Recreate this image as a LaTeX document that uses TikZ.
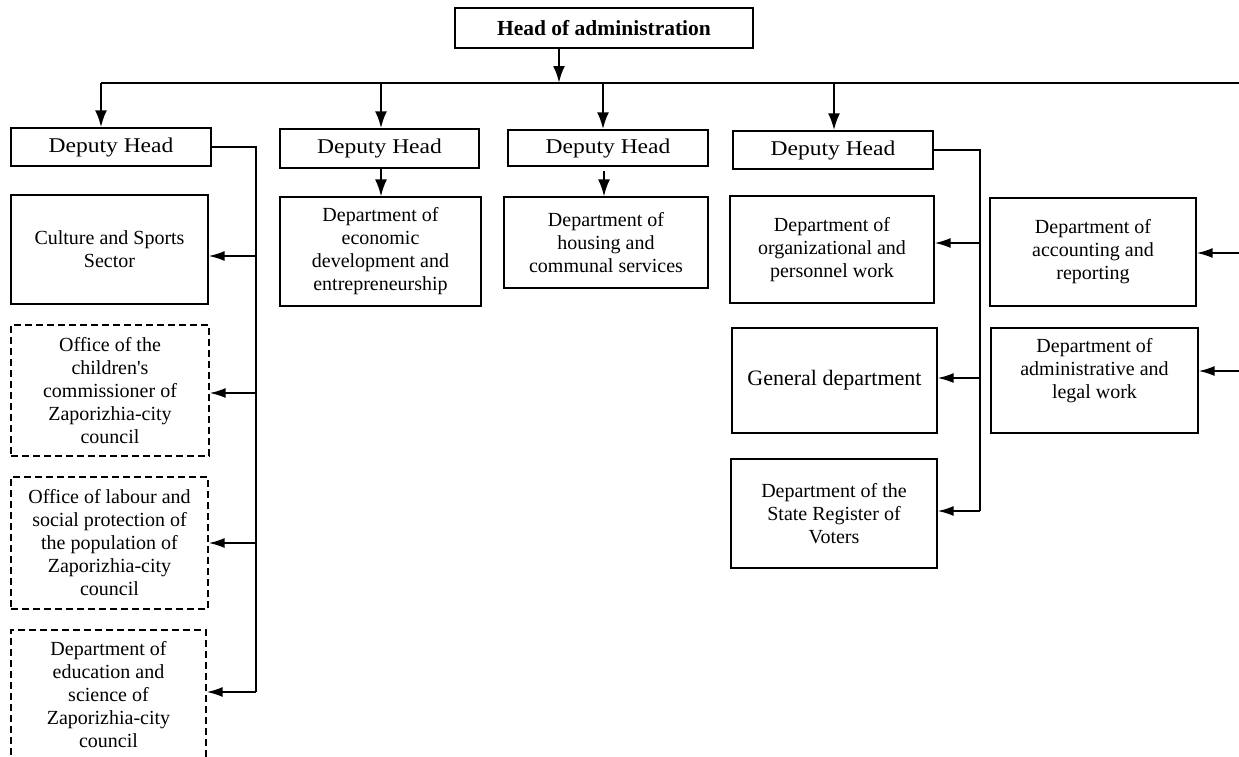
\documentclass[tikz,border=0pt]{standalone}
\usepackage{fontspec}
\setmainfont{Liberation Serif}
\usetikzlibrary{arrows.meta}
\newcommand{\wide}[1]{\scalebox{1.12}[1]{#1}}
\begin{document}
\begin{tikzpicture}[x=1pt,y=-1pt,
  box/.style={draw, line width=1.3pt, inner sep=0pt, align=center,
    font=\fontsize{20}{23}\selectfont},
  dbox/.style={box, dash pattern=on 7pt off 4pt},
  deputy/.style={box, font=\fontsize{21}{24}\selectfont},
  plain/.style={align=center, font=\fontsize{20}{23}\selectfont},
  link/.style={line width=1.8pt},
  bus/.style={line width=2.6pt},
  tip/.style={-{Latex[length=16pt,width=10pt]}},
  btip/.style={-{Latex[length=17pt,width=12pt]}},
]
\useasboundingbox (0,0) rectangle (1239,756);
\clip (0,0) rectangle (1239,756);

% top of the hierarchy
\node[box, minimum width=298pt, minimum height=40pt,
  font=\fontsize{21.5}{24}\selectfont\bfseries] (head) at (604,28) {Head of administration};

% deputies
\node[deputy, minimum width=200pt, minimum height=38pt] (d1) at (111,147) {\wide{Deputy Head}};
\node[deputy, minimum width=199pt, minimum height=39pt] (d2) at (379.5,148.5) {\wide{Deputy Head}};
\node[deputy, minimum width=200pt, minimum height=36pt] (d3) at (608,148) {\wide{Deputy Head}};
\node[deputy, minimum width=200pt, minimum height=38pt] (d4) at (833,150) {\wide{Deputy Head}};

% units under the first deputy
\node[box, minimum width=197pt, minimum height=109pt] (culture) at (109.5,249.5) {Culture and Sports\\Sector};
\node[dbox, minimum width=198pt, minimum height=131pt] (children) at (110,390.5)
  {Office of the\\children\textquotesingle s\\commissioner of\\Zaporizhia-city\\council};
\node[dbox, minimum width=197pt, minimum height=132pt] (labour) at (109.5,543)
  {Office of labour and\\social protection of\\the population of\\Zaporizhia-city\\council};
\node[dbox, minimum width=195pt, minimum height=130pt] (education) at (108.5,695)
  {Department of\\education and\\science of\\Zaporizhia-city\\council};

% units under the second and third deputies
\node[box, minimum width=201pt, minimum height=109pt] (econ) at (380.5,251.5)
  {Department of\\economic\\development and\\entrepreneurship};
\node[box, minimum width=204pt, minimum height=91pt] (housing) at (606,242.5)
  {Department of\\housing and\\communal services};

% units under the fourth deputy
\node[box, minimum width=204pt, minimum height=107pt] (org) at (832,249.5)
  {Department of\\organizational and\\personnel work};
\node[box, minimum width=205pt, minimum height=105pt,
  font=\fontsize{22}{24}\selectfont] (general) at (834.5,380.5) {General department};
\node[box, minimum width=206pt, minimum height=109pt] (state) at (834,513.5)
  {Department of the\\State Register of\\Voters};

% units fed from the right
\node[box, minimum width=206pt, minimum height=108pt] (account) at (1093,252)
  {Department of\\accounting and\\reporting};
\node[box, minimum width=207pt, minimum height=105pt] (admin) at (1094.5,380.5) {};
\node[plain] at ([yshift=10pt]admin.center) {Department of\\administrative and\\legal work};

% main bus
\coordinate (busL) at (101,83);
\coordinate (busR) at (1245,83);
\coordinate (hx) at (559,83);
\draw[bus,btip] (head.south -| hx) -- (hx);
\draw[bus] (busL) -- (busR);
\draw[bus,btip] (busL) -- (d1.north -| busL);
\coordinate (b2) at (381,83);
\coordinate (b3) at (603,83);
\coordinate (b4) at (834,83);
\draw[bus,btip] (b2) -- (d2.north -| b2);
\draw[bus,btip] (b3) -- (d3.north -| b3);
\draw[bus,btip] (b4) -- (d4.north -| b4);

% direct subordination
\draw[link,btip] (d2.south -| b2) -- (econ.north -| b2);
\draw[link,btip] ([shift={(-4pt,-4pt)}]d3.south) coordinate (d3s) -- (d3s |- housing.north);

% first deputy side line
\coordinate (l1bot) at (256,692);
\draw[link] (d1.east) -| (l1bot);
\draw[link,tip] (l1bot |- culture.east) ++(0,6.5) coordinate (c1) -- (c1 -| culture.east);
\draw[link,tip] (l1bot |- children.east) ++(0,2.5) coordinate (c2) -- (c2 -| children.east);
\draw[link,tip] (l1bot |- labour.east) -- (labour.east);
\draw[link,tip] (l1bot) -- (l1bot -| education.east);

% fourth deputy side line
\coordinate (l4bot) at (980,511);
\draw[link] (d4.east) -| (l4bot);
\draw[link,tip] (l4bot |- org.east) ++(0,-6.5) coordinate (c4) -- (c4 -| org.east);
\draw[link,tip] (l4bot |- general.east) ++(0,-2.5) coordinate (c5) -- (c5 -| general.east);
\draw[link,tip] (l4bot) -- (l4bot -| state.east);

% lines entering from the right
\coordinate (rEdge) at (1245,0);
\draw[link,tip] (rEdge |- account.east) ++(0,1) coordinate (c6) -- (c6 -| account.east);
\draw[link,tip] (rEdge |- admin.east) ++(0,-9.5) coordinate (c7) -- (c7 -| admin.east);
\end{tikzpicture}
\end{document}
